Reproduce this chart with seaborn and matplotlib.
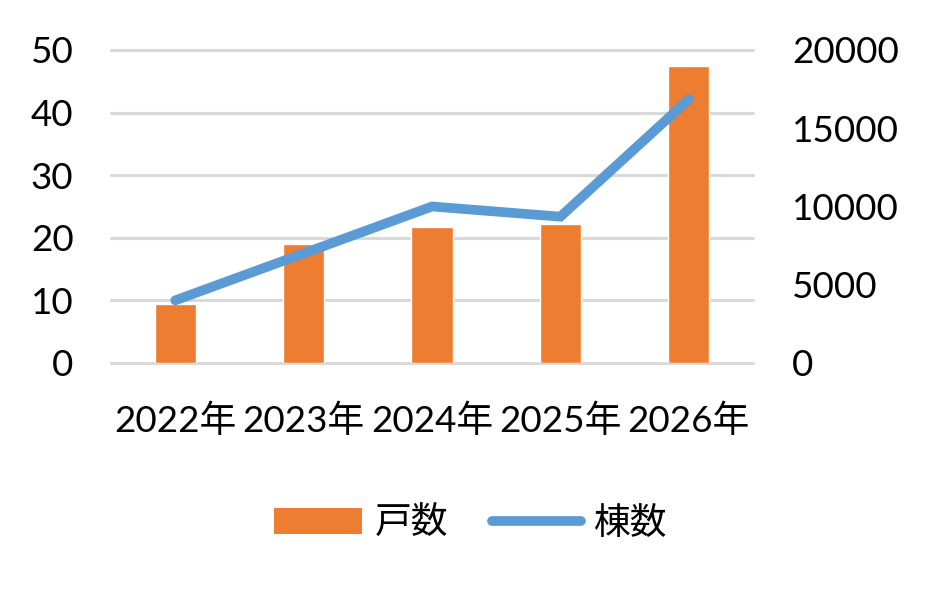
import pandas as pd
import matplotlib
matplotlib.use("Agg")
import matplotlib.pyplot as plt
import seaborn as sns
from matplotlib.patches import Patch
from matplotlib.lines import Line2D

# data
years = ["2022年", "2023年", "2024年", "2025年", "2026年"]
households = [9.4, 19.0, 21.7, 22.2, 47.4]      # 戸数 (left axis)
buildings = [4000, 7000, 10000, 9350, 16850]     # 棟数 (right axis)
left_ticks = [0, 10, 20, 30, 40, 50]
right_ticks = [0, 5000, 10000, 15000, 20000]

df = pd.DataFrame({"year": years, "戸数": households, "棟数": buildings})

sns.set_style("white")
plt.rcParams["font.family"] = ["Lato", "Noto Sans CJK JP", "DejaVu Sans"]
plt.rcParams["text.color"] = "black"
plt.rcParams["xtick.color"] = "black"
plt.rcParams["ytick.color"] = "black"

bar_color = "#ED7D31"
line_color = "#5B9BD5"
fs = 26.5

fig = plt.figure(figsize=(9.26, 5.93), dpi=100)
ax = fig.add_axes([0.1199, 0.3879, 0.6933, 0.5278])

sns.barplot(data=df, x="year", y="戸数", color=bar_color, width=0.32,
            saturation=1, ax=ax)
ax.set_ylim(0, 50)
ax.set_yticks(left_ticks)
ax.set_xlim(-0.5, 4.5)
ax.grid(axis="y", color="#d9d9d9", linewidth=2.2)
for gl in ax.get_ygridlines():
    gl.set_clip_on(False)
ax.set_axisbelow(True)
ax.set_xlabel("")
ax.set_ylabel("")
ax.tick_params(axis="y", length=0, pad=27, labelsize=fs)
ax.tick_params(axis="x", length=0, pad=29, labelsize=fs)
for s in ax.spines.values():
    s.set_visible(False)

ax2 = ax.twinx()
sns.lineplot(data=df, x="year", y="棟数", color=line_color, linewidth=7,
             sort=False, ax=ax2, solid_capstyle="round", solid_joinstyle="miter")
ax2.set_ylim(0, 20000)
ax2.set_yticks(right_ticks)
ax2.set_xlim(-0.5, 4.5)
ax2.set_ylabel("")
ax2.tick_params(axis="y", length=0, pad=28, labelsize=fs)
for s in ax2.spines.values():
    s.set_visible(False)
if ax2.get_legend():
    ax2.get_legend().remove()

handles = [Patch(facecolor=bar_color, edgecolor="none"),
           Line2D([0], [0], color=line_color, linewidth=7, solid_capstyle="round")]
fig.legend(handles, ["戸数", "棟数"], loc="center", bbox_to_anchor=(0.508, 0.118),
           ncol=2, frameon=False, fontsize=fs, handlelength=2.4, handleheight=0.7,
           columnspacing=1.2, handletextpad=0.35)

fig.savefig("out.png", dpi=100)
